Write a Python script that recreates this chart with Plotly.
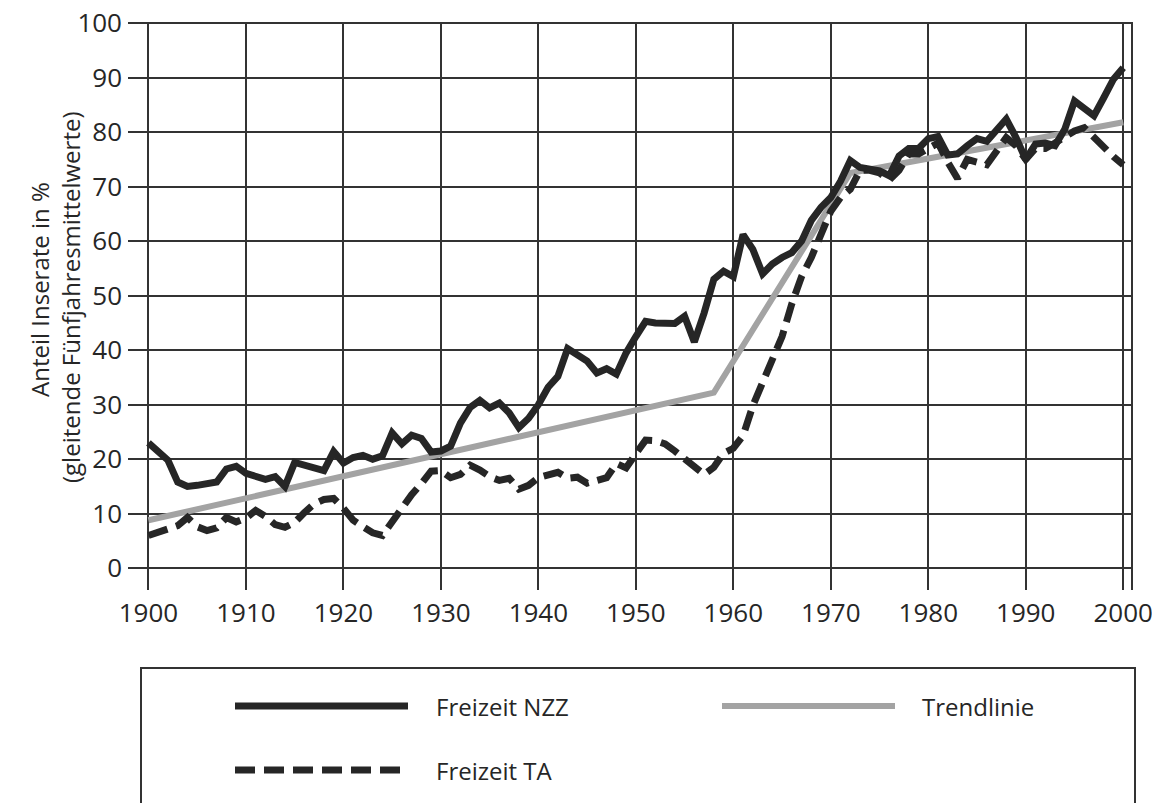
import plotly.graph_objects as go

years = list(range(1900, 2001))

nzz = [23.0, 21.5, 19.8, 15.8, 15.0, 15.2, 15.5, 15.8, 18.2, 18.7,
       17.4, 16.8, 16.3, 16.8, 15.0, 19.4, 19.0, 18.4, 17.9, 21.4,
       19.3, 20.3, 20.7, 20.0, 20.6, 24.8, 22.8, 24.4, 23.8, 21.3,
       21.5, 22.4, 26.6, 29.5, 30.8, 29.4, 30.3, 28.5, 25.8, 27.5,
       30.0, 33.2, 35.2, 40.3, 39.0, 38.0, 35.8, 36.6, 35.6, 39.5,
       42.5, 45.3, 45.0, 44.9, 44.9, 46.2, 41.5, 46.8, 53.0, 54.5,
       53.5, 61.2, 58.5, 54.0, 55.8, 57.0, 57.9, 60.0, 63.8, 66.2,
       68.0, 71.0, 74.8, 73.5, 73.3, 72.9, 72.0, 75.6, 77.0, 77.0,
       78.8, 79.2, 75.8, 76.0, 77.5, 78.8, 78.3, 80.2, 82.4, 79.0,
       75.0, 77.8, 78.0, 77.5, 80.5, 85.7, 84.2, 83.0, 86.3, 89.7,
       91.8]

ta = [6.0, 6.6, 7.0, 7.8, 9.3, 7.6, 6.9, 7.4, 9.3, 8.5,
      9.2, 10.6, 9.5, 8.0, 7.5, 8.4, 10.2, 11.8, 12.6, 12.8,
      11.0, 8.8, 7.6, 6.5, 6.0, 8.5, 11.3, 13.5, 15.5, 17.8,
      17.9, 16.6, 17.2, 18.9, 18.0, 16.8, 16.1, 16.5, 14.5, 15.2,
      16.6, 17.2, 17.6, 16.5, 16.7, 15.6, 16.0, 16.6, 19.2, 18.4,
      21.0, 23.5, 23.4, 22.8, 21.5, 20.0, 18.5, 17.2, 18.5, 21.1,
      22.0, 24.3, 29.8, 34.2, 38.0, 42.5, 48.5, 53.5, 57.0, 61.0,
      65.5, 68.0, 69.5, 73.0, 73.0, 72.5, 71.2, 73.0, 76.0, 76.0,
      77.0, 78.0, 74.5, 71.5, 75.0, 74.5, 74.0, 76.5, 79.0, 77.5,
      75.0, 77.0, 77.0, 78.0, 79.0, 80.2, 80.8, 79.0, 77.0, 75.5,
      74.0]

trend_years = [1900, 1958, 1972, 2000]
trend_vals = [8.8, 32.2, 72.5, 81.8]

x_ticks = list(range(1900, 2001, 10))
y_ticks = list(range(0, 101, 10))

legend_labels = ["Freizeit NZZ", "Trendlinie", "Freizeit TA"]
y_title_lines = ["Anteil Inserate in %", "(gleitende Fünfjahresmittelwerte)"]

FONT = "Open Sans, sans-serif"
INK = "#262626"
GRID = "#333333"
TREND = "#a3a3a3"

# page has an 8px body margin; figure sized to fit the 1160x803 window
PAGE_OFF = 8
W, H = 1160 - PAGE_OFF, 803 - PAGE_OFF
# plot area in page pixels
PL, PR, PT, PB = 128, 1132, 22, 590
L, R, T, B = PL - PAGE_OFF, PR - PAGE_OFF, PT - PAGE_OFF, PB - PAGE_OFF


def px(x):
    return (x - PL) / (PR - PL)


def py(y):
    return (PB - y) / (PB - PT)


fig = go.Figure()
fig.add_trace(go.Scatter(x=trend_years, y=trend_vals, mode="lines",
                         line=dict(color=TREND, width=6), name=legend_labels[1]))
fig.add_trace(go.Scatter(x=years, y=ta, mode="lines",
                         line=dict(color=INK, width=7, dash="20px,9px"), name=legend_labels[2]))
fig.add_trace(go.Scatter(x=years, y=nzz, mode="lines",
                         line=dict(color=INK, width=7), name=legend_labels[0]))

shapes = []
shapes.append(dict(type="line", xref="paper", yref="paper", x0=1, x1=1, y0=0, y1=1,
                   line=dict(color=GRID, width=2)))
shapes.append(dict(type="rect", xref="paper", yref="paper", x0=px(141), x1=px(1135),
                   y0=py(830), y1=py(668), line=dict(color=GRID, width=2), layer="above"))
shapes.append(dict(type="line", xref="paper", yref="paper", x0=px(235), x1=px(408),
                   y0=py(706), y1=py(706), line=dict(color=INK, width=7)))
shapes.append(dict(type="line", xref="paper", yref="paper", x0=px(722), x1=px(895),
                   y0=py(706), y1=py(706), line=dict(color=TREND, width=6)))
shapes.append(dict(type="line", xref="paper", yref="paper", x0=px(235), x1=px(408),
                   y0=py(770), y1=py(770), line=dict(color=INK, width=7, dash="20px,9px")))

tfont = dict(size=24, color=INK, family=FONT)
annotations = [
    dict(text=legend_labels[0], xref="paper", yref="paper", x=px(434), y=py(706),
         xanchor="left", yanchor="middle", showarrow=False, font=tfont),
    dict(text=legend_labels[1], xref="paper", yref="paper", x=px(920), y=py(706),
         xanchor="left", yanchor="middle", showarrow=False, font=tfont),
    dict(text=legend_labels[2], xref="paper", yref="paper", x=px(434), y=py(770),
         xanchor="left", yanchor="middle", showarrow=False, font=tfont),
    dict(text=y_title_lines[0], xref="paper", yref="paper", x=px(39), y=py(290),
         xanchor="center", yanchor="middle", textangle=-90, showarrow=False, font=tfont),
    dict(text=y_title_lines[1], xref="paper", yref="paper", x=px(70), y=py(297),
         xanchor="center", yanchor="middle", textangle=-90, showarrow=False, font=tfont),
]

fig.update_layout(
    width=W, height=H,
    margin=dict(l=L, r=W - R, t=T, b=H - B),
    paper_bgcolor="white", plot_bgcolor="white",
    showlegend=False,
    shapes=shapes, annotations=annotations,
    font=dict(family=FONT, color=INK, size=26),
)
fig.update_xaxes(range=[1897.9, 2000.9], tickvals=x_ticks, ticktext=[str(v) for v in x_ticks],
                 showgrid=True, gridcolor=GRID, gridwidth=2, zeroline=False, showline=False,
                 automargin=False, ticklabeloverflow="allow",
                 ticks="", ticklabelstandoff=5, tickfont=dict(size=26, family=FONT, color=INK))
fig.update_yaxes(range=[-4, 100.2], tickvals=y_ticks, ticktext=[str(v) for v in y_ticks],
                 showgrid=True, gridcolor=GRID, gridwidth=2, zeroline=False, showline=False,
                 automargin=False, ticklabeloverflow="allow",
                 ticks="", ticklabelstandoff=5, tickfont=dict(size=26, family=FONT, color=INK))

fig.write_html("out.html")
